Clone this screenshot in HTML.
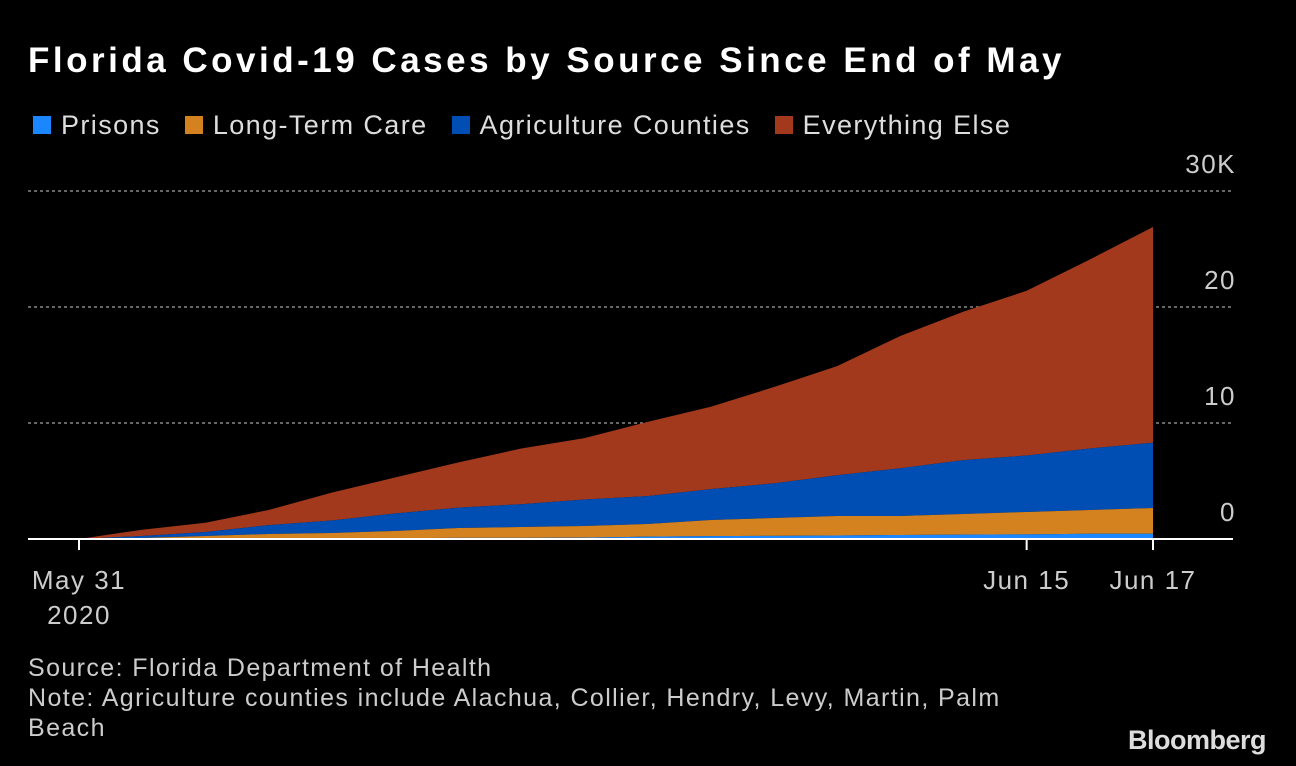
<!DOCTYPE html>
<html><head><meta charset="utf-8"><style>
body{margin:0;background:#000;width:1296px;height:766px;overflow:hidden;font-family:"Liberation Sans",sans-serif;color:#fff}
.t{position:absolute;white-space:nowrap}
</style></head><body>
<div class="t" style="left:28px;top:41px;font-size:35px;font-weight:bold;letter-spacing:3.5px">Florida Covid-19 Cases by Source Since End of May</div>
<div class="t" style="left:33px;top:110px;font-size:27px;color:#ddd;display:flex;letter-spacing:1.4px">
<span style="margin-right:24px"><span style="display:inline-block;width:18px;height:18px;background:#1a86ff;margin-right:10px"></span>Prisons</span>
<span style="margin-right:24px"><span style="display:inline-block;width:18px;height:18px;background:#d4821f;margin-right:10px"></span>Long-Term Care</span>
<span style="margin-right:24px"><span style="display:inline-block;width:18px;height:18px;background:#004db3;margin-right:10px"></span>Agriculture Counties</span>
<span><span style="display:inline-block;width:18px;height:18px;background:#a2381c;margin-right:10px"></span>Everything Else</span>
</div>
<svg id="chart" width="1296" height="766" style="position:absolute;left:0;top:0"></svg>
<div class="t" style="left:28px;top:653px;font-size:25px;color:#ccc;line-height:30px;letter-spacing:1.4px">Source: Florida Department of Health<br>Note: Agriculture counties include Alachua, Collier, Hendry, Levy, Martin, Palm<br>Beach</div>
<div class="t" style="left:1128px;top:725px;font-size:27px;font-weight:bold;color:#ddd;letter-spacing:-0.5px">Bloomberg</div>
<script>
const days=[0,1,2,3,4,5,6,7,8,9,10,11,12,13,14,15,16,17];
const prisons=[0,0,0,0.03,0.05,0.08,0.1,0.1,0.12,0.2,0.25,0.27,0.3,0.35,0.38,0.4,0.45,0.45];
const longTermCare=[0,0.09,0.26,0.4,0.47,0.61,0.85,0.93,1.0,1.09,1.39,1.54,1.68,1.63,1.78,1.93,2.05,2.22];
const agriculture=[0,0.17,0.34,0.77,1.08,1.51,1.75,1.97,2.28,2.41,2.66,2.99,3.52,4.12,4.64,4.87,5.3,5.63];
const everythingElse=[0,0.54,0.8,1.3,2.4,3.1,3.9,4.8,5.3,6.4,7.1,8.3,9.4,11.4,12.8,14.2,16.3,18.6];
const yTicks=[0,10,20,30];
const yTickLabels=["0","10","20","30K"];
const xTickDays=[0,15,17];
const xTickLabels=["May 31","Jun 15","Jun 17"];
const NS="http://www.w3.org/2000/svg";
const svg=document.getElementById('chart');
const x=d=>79+d*(1153-79)/17;
const y=v=>539-v*11.6;
function el(t,a){const e=document.createElementNS(NS,t);for(const k in a)e.setAttribute(k,a[k]);svg.appendChild(e);return e;}
yTicks.forEach((v,i)=>{
 if(v>0){const g=el('line',{x1:28,x2:1233,y1:y(v),y2:y(v),stroke:'#888','stroke-width':1.5,'stroke-dasharray':'3,3'});
 
 }
 const t=el('text',{x:1236,y:y(v)-18,'text-anchor':'end','font-size':26,fill:'#ccc','font-family':'Liberation Sans, sans-serif','letter-spacing':'1.5'});
 t.textContent=yTickLabels[i];
 
 
});
const series=[prisons,longTermCare,agriculture,everythingElse];
const colors=['#1a86ff','#d4821f','#004db3','#a2381c'];
const names=['area-prisons','area-long-term-care','area-agriculture','area-everything-else'];
let base=days.map(()=>0);
const layers=[];
series.forEach((s,k)=>{const top=base.map((b,i)=>b+s[i]);layers.push([base,top]);base=top;});
for(let k=layers.length-1;k>=0;k--){
 const [b,t]=layers[k];
 let d='M'+days.map((dd,i)=>x(dd)+','+y(t[i])).join('L');
 d+='L'+days.slice().reverse().map((dd,j)=>x(dd)+','+y(b[days.length-1-j])).join('L')+'Z';
 const p=el('path',{d:d,fill:colors[k]});
 
 
}
const ax=el('line',{x1:28,x2:1233,y1:539,y2:539,stroke:'#fff','stroke-width':2});


xTickDays.forEach((dd,i)=>{
 const tk=el('line',{x1:x(dd),x2:x(dd),y1:539,y2:550,stroke:'#fff','stroke-width':2});
 
 
 const t=el('text',{x:x(dd),y:589,'text-anchor':'middle','font-size':26,fill:'#ccc','font-family':'Liberation Sans, sans-serif','letter-spacing':'1.5'});
 t.textContent=xTickLabels[i];
 
 
});
const yr=el('text',{x:x(0),y:624,'text-anchor':'middle','font-size':26,fill:'#ccc','font-family':'Liberation Sans, sans-serif','letter-spacing':'1.5'});
yr.textContent='2020';


</script>
</body></html>
